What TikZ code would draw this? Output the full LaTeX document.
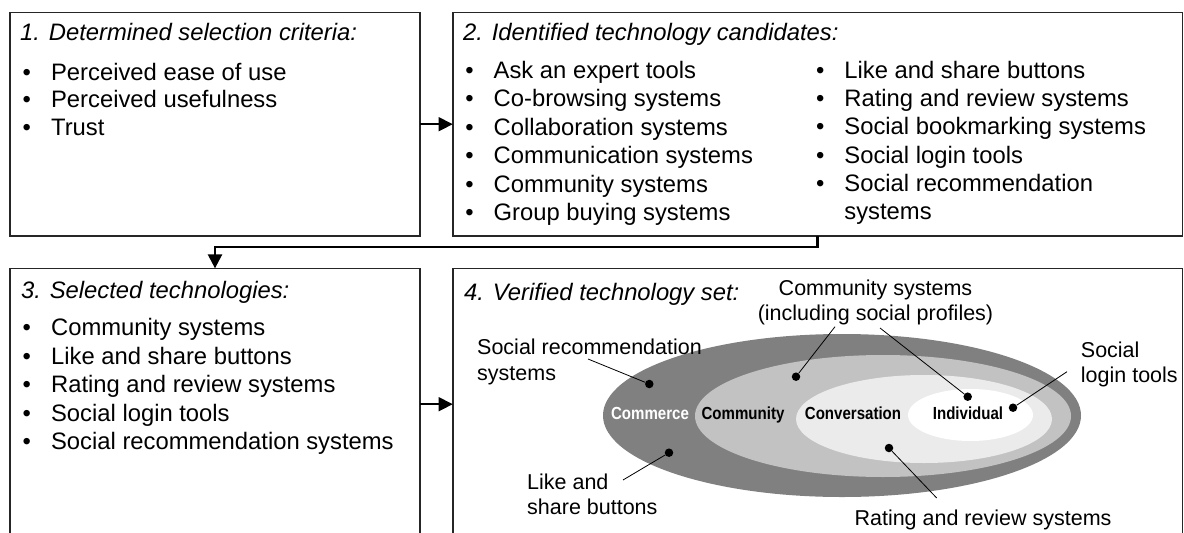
\documentclass[tikz,border=0pt]{standalone}
\usepackage{fontspec}
\setmainfont{Liberation Sans}
\usetikzlibrary{positioning,arrows.meta}
\definecolor{ringA}{gray}{0.5}
\definecolor{ringB}{gray}{0.76}
\definecolor{ringC}{gray}{0.92}
\newcommand{\bul}{\makebox[28.4pt][l]{\textbullet}}
\newcommand{\nrw}[1]{\scalebox{0.86}[1]{#1}}

\begin{document}
\begin{tikzpicture}[x=1pt, y=-1pt,
  box/.style={draw=black!85, line width=1.6pt, inner sep=0pt, outer sep=0pt},
  ttl/.style={font=\fontsize{23.8}{28.3}\selectfont\itshape, anchor=base west, inner sep=0pt},
  itm/.style={font=\fontsize{23.8}{28.3}\selectfont, anchor=base west, inner sep=0pt},
  lbl/.style={font=\fontsize{21.5}{25.5}\selectfont, inner sep=0pt},
  ring/.style={font=\fontsize{17.5}{17.5}\selectfont\bfseries, anchor=base, inner sep=0pt},
  dot/.style={circle, fill, inner sep=0pt, minimum size=8.5pt},
  lead/.style={line width=0.8pt},
  conn/.style={line width=1.5pt, -{Triangle[length=14pt,width=14pt]}}]
\path[use as bounding box, clip] (0,0) rectangle (1184,533);

\node (b1) [box, minimum width=410pt, minimum height=223.7pt] at (215,124.2) {};
\node (b2) [box, minimum width=729.8pt, minimum height=223.7pt] at (817.6,124.2) {};
\node (b3) [box, minimum width=410pt, minimum height=271.7pt] at (215,404.2) {};
\node (b4) [box, minimum width=729.8pt, minimum height=271.7pt] at (817.6,404.2) {};

\node (t1) [ttl] at (20,40.5) {1. Determined selection criteria:};
\node (c1) [itm] at (22.5,80.2) {\bul Perceived ease of use};
\node (c2) [below=27.5pt of c1.base west, itm] {\bul Perceived usefulness};
\node (c3) [below=27.5pt of c2.base west, itm] {\bul Trust};

\node (t2) [ttl] at (463,40.5) {2. Identified technology candidates:};
\node (p1) [itm] at (465.1,78.5) {\bul Ask an expert tools};
\node (p2) [below=28.4pt of p1.base west, itm] {\bul Co-browsing systems};
\node (p3) [below=28.4pt of p2.base west, itm] {\bul Collaboration systems};
\node (p4) [below=28.4pt of p3.base west, itm] {\bul Communication systems};
\node (p5) [below=28.4pt of p4.base west, itm] {\bul Community systems};
\node (p6) [below=28.4pt of p5.base west, itm] {\bul Group buying systems};
\node (q1) [itm] at (815.8,78.5) {\bul Like and share buttons};
\node (q2) [below=28.2pt of q1.base west, itm] {\bul Rating and review systems};
\node (q3) [below=28.2pt of q2.base west, itm] {\bul Social bookmarking systems};
\node (q4) [below=28.2pt of q3.base west, itm] {\bul Social login tools};
\node (q5) [below=28.2pt of q4.base west, itm] {\bul\parbox[t]{300pt}{Social recommendation\\systems}};

\node (t3) [ttl] at (21,298.5) {3. Selected technologies:};
\node (s1) [itm] at (22.5,335.8) {\bul Community systems};
\node (s2) [below=28.5pt of s1.base west, itm] {\bul Like and share buttons};
\node (s3) [below=28.5pt of s2.base west, itm] {\bul Rating and review systems};
\node (s4) [below=28.5pt of s3.base west, itm] {\bul Social login tools};
\node (s5) [below=28.5pt of s4.base west, itm] {\bul Social recommendation systems};

\node (t4) [ttl] at (464,300.5) {4. Verified technology set:};

\fill[ringA] (842,415.5) ellipse [x radius=239, y radius=81.5];
\fill[ringB] (883,416) ellipse [x radius=188, y radius=61];
\fill[ringC] (924,419) ellipse [x radius=128, y radius=44];
\fill[white] (970.5,415) ellipse [x radius=62.5, y radius=26];

\node (r1) [ring, text=white] at (650,419.3) {\nrw{Commerce}};
\node (r2) [ring] at (743,419.3) {\nrw{Community}};
\node (r3) [ring] at (853,419.3) {\nrw{Conversation}};
\node (r4) [ring] at (968,419.3) {\nrw{Individual}};

\node (l1) [lbl, align=left, anchor=north west] at (477,339) {Social recommendation\\systems};
\node (l2) [lbl, align=left, anchor=north west] at (527,473.6) {Like and\\share buttons};
\node (l3) [lbl, align=center, anchor=north] at (875.5,279.6) {Community systems\\(including social profiles)};
\node (l4) [lbl, align=left, anchor=north west] at (1080.7,341.6) {Social\\login tools};
\node (l5) [lbl, anchor=base] at (983,525) {Rating and review systems};

\node (d1) [dot] at (649.3,384) {};
\node (d2) [dot] at (669,452.7) {};
\node (d3) [dot] at (796,376.7) {};
\node (d4) [dot] at (967.7,396.7) {};
\node (d5) [dot] at (1013,407.7) {};
\node (d6) [dot] at (889,448) {};
\coordinate (e1) at (588,359);
\coordinate (e2) at (623,480);
\coordinate (e3) at (835,326.7);
\coordinate (e4) at (880,328);
\coordinate (e5) at (1067,371.7);
\coordinate (e6) at (936.7,498);
\draw[lead] (d1) -- (e1); \draw[lead] (d2) -- (e2); \draw[lead] (d3) -- (e3);
\draw[lead] (d4) -- (e4); \draw[lead] (d5) -- (e5); \draw[lead] (d6) -- (e6);

\draw[conn] (b1) -- (b2);
\draw[conn] (b3) -- (b4);
\draw[conn, line width=2.5pt] (b2.south) -- ++(0,10.7) -| (b3.north);
\end{tikzpicture}
\end{document}
